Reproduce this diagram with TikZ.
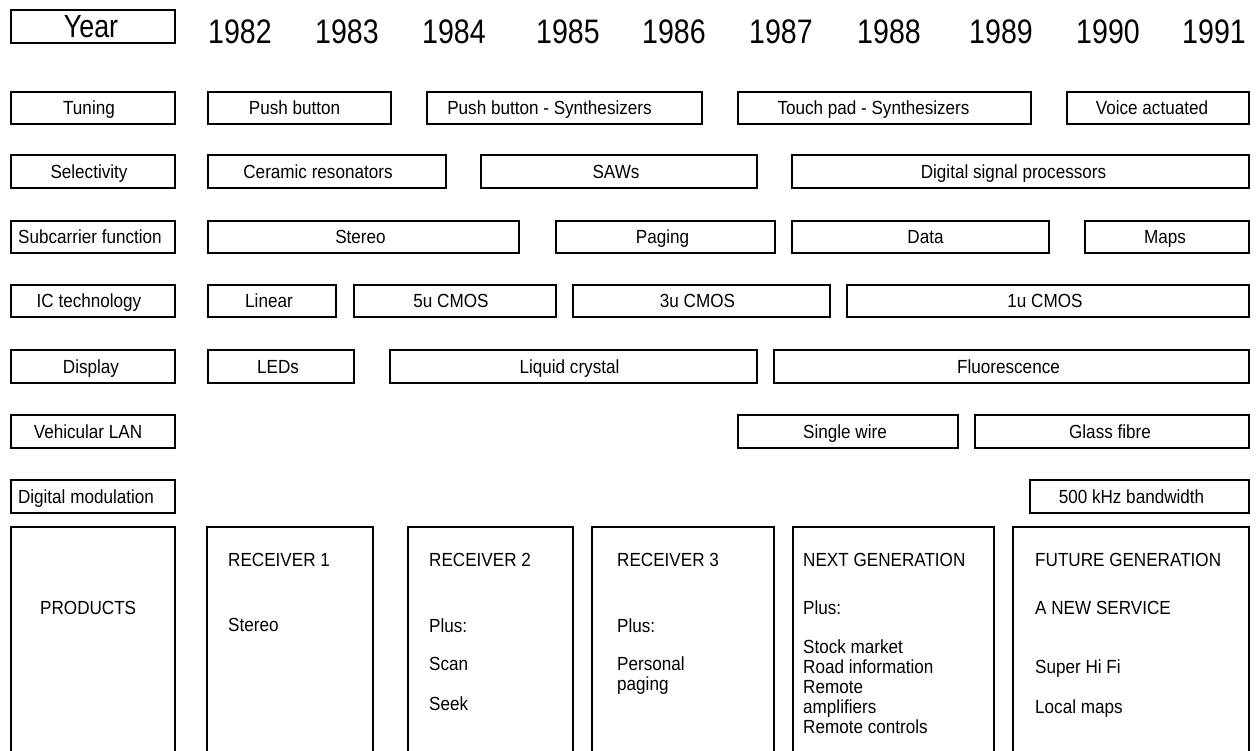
\documentclass[tikz,border=0pt]{standalone}
\usepackage{fontspec}
\setmainfont{Liberation Sans}[FakeStretch=0.9]
\newfontfamily\yearfont{Liberation Sans}[FakeStretch=0.84]

\tikzset{
	row/.style = {line width = 1.4pt},
	prod/.style = {line width = 2pt},
	lbl/.style = {font = \fontsize{19}{20}\selectfont, text height = 13.6pt, text depth = 0pt, xshift = -3pt},
	head/.style = {lbl, xshift = -1pt},
	yr/.style = {font = \yearfont\fontsize{34}{36}\selectfont},
	ptext/.style = {font = \fontsize{19}{20}\selectfont, anchor = north west, inner sep = 0pt, align = left},
}

\begin{document}
\begin{tikzpicture}[x = 1pt, y = -1pt]
	\useasboundingbox (0,0) rectangle (1256,751);
	\clip (0,0) rectangle (1256,751);
	
	\draw [row] (11,10) rectangle node [yr, font = \yearfont\fontsize{32}{34}\selectfont, text height = 22.9pt, text depth = 0pt, xshift = -2pt] (year) {Year} (175,43);
	
	\node [yr] (y1982) at (240,32) {1982};
	\node [yr] (y1983) at (347,32) {1983};
	\node [yr] (y1984) at (454,32) {1984};
	\node [yr] (y1985) at (568,32) {1985};
	\node [yr] (y1986) at (674,32) {1986};
	\node [yr] (y1987) at (781,32) {1987};
	\node [yr] (y1988) at (889,32) {1988};
	\node [yr] (y1989) at (1001,32) {1989};
	\node [yr] (y1990) at (1108,32) {1990};
	\node [yr] (y1991) at (1214,32) {1991};
	
	\draw [row] (11,92) rectangle node [head] (tuning) {Tuning} (175,124);
	\draw [row] (208,92) rectangle node [lbl, xshift = -2pt] (push) {Push button} (391,124);
	\draw [row] (427,92) rectangle node [lbl, xshift = -12pt] (pushsyn) {Push button - Synthesizers} (702,124);
	\draw [row] (738,92) rectangle node [lbl, xshift = -8pt] (touchsyn) {Touch pad - Synthesizers} (1031,124);
	\draw [row] (1067,92) rectangle node [lbl, xshift = -3pt] (voice) {Voice actuated} (1249,124);
	
	\draw [row] (11,155) rectangle node [head] (select) {Selectivity} (175,188);
	\draw [row] (208,155) rectangle node [lbl, xshift = -6pt] (ceramic) {Ceramic resonators} (446,188);
	\draw [row] (481,155) rectangle node [lbl] (saw) {SAWs} (757,188);
	\draw [row] (792,155) rectangle node [lbl, xshift = -4pt] (dsp) {Digital signal processors} (1249,188);
	
	\draw [row] (11,221) rectangle node [head, xshift = 1pt] (subcar) {Subcarrier function} (175,253);
	\draw [row] (208,221) rectangle node [lbl] (stereo) {Stereo} (519,253);
	\draw [row] (556,221) rectangle node [lbl] (paging) {Paging} (775,253);
	\draw [row] (792,221) rectangle node [lbl, xshift = 8pt] (data) {Data} (1049,253);
	\draw [row] (1085,221) rectangle node [lbl, xshift = 1pt] (maps) {Maps} (1249,253);
	
	\draw [row] (11,285) rectangle node [head] (ictech) {IC technology} (175,317);
	\draw [row] (208,285) rectangle node [lbl] (linear) {Linear} (336,317);
	\draw [row] (354,285) rectangle node [lbl, xshift = -1pt] (cmosfive) {5u CMOS} (556,317);
	\draw [row] (573,285) rectangle node [lbl, xshift = -1pt] (cmosthree) {3u CMOS} (830,317);
	\draw [row] (847,285) rectangle node [lbl] (cmosone) {1u CMOS} (1249,317);
	
	\draw [row] (11,350) rectangle node [head, xshift = 2pt] (display) {Display} (175,383);
	\draw [row] (208,350) rectangle node [lbl] (leds) {LEDs} (354,383);
	\draw [row] (390,350) rectangle node [lbl, xshift = -1pt] (lcd) {Liquid crystal} (757,383);
	\draw [row] (774,350) rectangle node [lbl] (fluor) {Fluorescence} (1249,383);
	
	\draw [row] (11,415) rectangle node [head, xshift = -1pt] (lan) {Vehicular LAN} (175,448);
	\draw [row] (738,415) rectangle node [lbl] (wire) {Single wire} (958,448);
	\draw [row] (975,415) rectangle node [lbl, xshift = 1pt] (fibre) {Glass fibre} (1249,448);
	
	\draw [row] (11,480) rectangle node [head, xshift = -3pt] (digmod) {Digital modulation} (175,513);
	\draw [row] (1030,480) rectangle node [lbl, xshift = -5pt] (bandw) {500 kHz bandwidth} (1249,513);
	
	\draw [prod] (11,527) rectangle (175,770);
	\draw [prod] (207,527) rectangle (373,770);
	\draw [prod] (408,527) rectangle (573,770);
	\draw [prod] (592,527) rectangle (774,770);
	\draw [prod] (793,527) rectangle (994,770);
	\draw [prod] (1013,527) rectangle (1249,770);
	
	\node [ptext] (products) at (40,601) {PRODUCTS};
	
	\node [ptext] (rxone) at (228,553) {RECEIVER 1};
	\node [ptext] (rxonea) at (228,618) {Stereo};
	
	\node [ptext] (rxtwo) at (429,553) {RECEIVER 2};
	\node [ptext] (rxtwoa) at (429,619) {Plus:};
	\node [ptext] (rxtwob) at (429,657) {Scan};
	\node [ptext] (rxtwoc) at (429,697) {Seek};
	
	\node [ptext] (rxthree) at (617,553) {RECEIVER 3};
	\node [ptext] (rxthreea) at (617,619) {Plus:};
	\node [ptext] (rxthreeb) at (617,657) {Personal\\paging};
	
	\node [ptext] (nextgen) at (803,553) {NEXT GENERATION};
	\node [ptext] (nextgena) at (803,601) {Plus:};
	\node [ptext] (nextgenb) at (803,640) {Stock market\\Road information\\Remote\\amplifiers\\Remote controls};
	
	\node [ptext] (future) at (1035,553) {FUTURE GENERATION};
	\node [ptext] (futurea) at (1035,601) {A NEW SERVICE};
	\node [ptext] (futureb) at (1035,660) {Super Hi Fi};
	\node [ptext] (futurec) at (1035,700) {Local maps};
\end{tikzpicture}
\end{document}
